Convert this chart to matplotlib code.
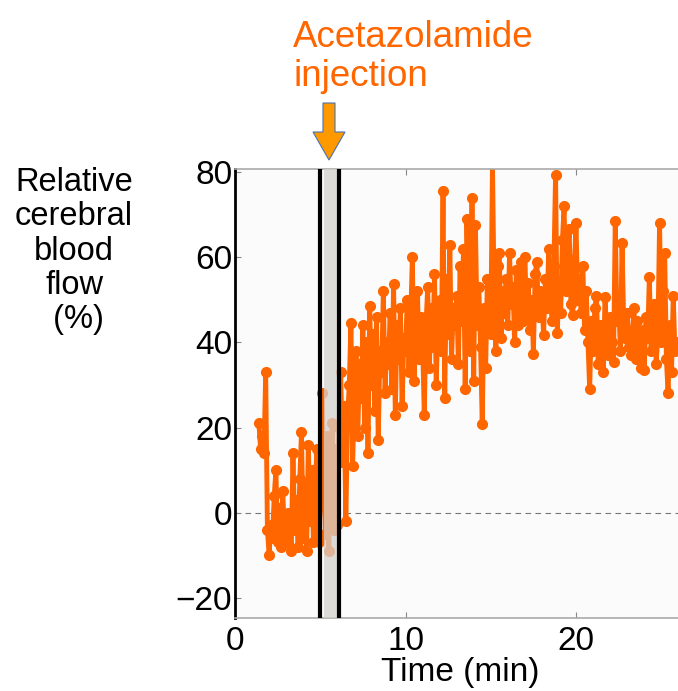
import matplotlib
matplotlib.use("Agg")
import matplotlib.pyplot as plt
from matplotlib.patches import FancyArrow
from matplotlib.transforms import IdentityTransform

# relative CBF (%) sampled every 0.1 min, starting at 1.4 min
t_start = 1.4
dt = 0.1
cbf = [
    21, 15, 18, 14, 33, -4,
    -10, -3, -6, 4, 10, -7, 1, -8, 5, -5,
    -7, 0, -3, -9, 14, -4, 3, -8, 8, 19,
    -6, 6, -9, 16, -2, 10, -7, 5, 15, -7,
    2, 28, 12, -5, 18, -9, 8, 21, -4, 15,
    -3, 20, 33, 12, 25, -2, 22, 30, 44.6, 11,
    28, 38, 18, 35, 27, 44, 20, 40, 14, 48.6,
    30, 42, 24, 46, 17, 38, 33, 52, 28, 40,
    35, 47, 29, 53.7, 23, 44, 36, 48, 25, 41,
    38, 50, 33, 45, 60, 31, 42, 52, 36, 46,
    40, 23, 44, 53, 34, 48, 39, 56, 30, 45,
    50, 38, 75.7, 27, 55, 42, 63, 36, 48, 44,
    51, 35, 58, 45, 62, 29, 69, 50, 38, 74,
    31, 67.6, 44, 53, 39, 20.8, 48, 34, 55, 46,
    42, 82, 50, 38, 58, 61, 41, 52, 47, 55,
    44, 61, 49, 53, 40, 57, 44, 51, 59, 45,
    60, 47, 54, 43, 50, 37.4, 56, 59, 46, 52,
    49, 41.8, 55, 48, 62, 51, 45, 58, 79.5, 42.3,
    53, 47, 64, 72, 52, 60, 66.6, 49, 46.5, 57,
    68, 50, 55, 47, 58, 43, 52, 40, 29, 45,
    38, 48, 51, 35, 44, 39, 33, 50.7, 42, 37,
    46, 40, 35.5, 68.6, 45, 50, 38, 63.3, 44, 41,
    47, 39, 37, 42, 48, 36, 45, 40, 34, 43,
    33.6, 46, 41, 55.4, 38, 44, 49, 35, 42, 68.2,
    40, 52, 61, 36, 28, 44, 33, 51, 38, 40,
]
times = [t_start + i * dt for i in range(len(cbf))]

inj_lines = [5.0, 6.1]
inj_band = [5.2, 6.0]
xticks = [0, 10, 20]
yticks = [-20, 0, 20, 40, 60, 80]
ytick_labels = ["\u221220", "0", "20", "40", "60", "80"]

orange = "#ff6600"
W, H = 678, 691

plt.rcParams['font.family'] = ['Liberation Sans', 'DejaVu Sans']
fig = plt.figure(figsize=(W / 100, H / 100), dpi=100)
ax = fig.add_axes([235 / W, 1 - 618 / H, 1 - 235 / W + 0.002, (618 - 169) / H])
ax.set_facecolor("#fbfbfb")

ax.plot(times, cbf, color=orange, lw=3.5, marker='o', ms=7, zorder=2)
ax.axhline(0, color="#777777", lw=0.8, ls=(0, (5, 4)), zorder=1)
ax.axvspan(inj_band[0], inj_band[1], color="#d4d1cc", alpha=0.75, lw=0, zorder=3)
for xv in inj_lines:
    ax.axvline(xv, color="black", lw=3, zorder=4)

ax.set_xlim(0, 26.06)
ax.set_ylim(-24.8, 80.8)
ax.set_xticks(xticks)
ax.set_yticks(yticks)
ax.set_yticklabels(ytick_labels)
ax.tick_params(axis='both', labelsize=24, direction='in', length=4, color="#888888")
ax.tick_params(axis='x', pad=6, top=True)
ax.tick_params(axis='y', pad=2)
for side in ['top', 'bottom', 'right']:
    ax.spines[side].set_color("#aaaaaa")
    ax.spines[side].set_linewidth(1.2)
ax.spines['left'].set_color("black")
ax.spines['left'].set_linewidth(2)

fig.text(460 / W, 1 - 673 / H, "Time (min)", fontsize=24, ha='center', va='center')
fig.text(74 / W, 1 - 251 / H, "Relative\ncerebral\nblood\nflow\n (%)", fontsize=23.5,
         ha='center', va='center', multialignment='center', linespacing=1.14)
fig.text(293 / W, 1 - 57 / H, "Acetazolamide\ninjection", fontsize=26.5, color=orange,
         ha='left', va='center', linespacing=1.13)

arrow = FancyArrow(329, H - 103, 0, -57, width=12, head_width=32, head_length=28,
                   length_includes_head=True, facecolor="#ff9900", edgecolor="#4a72b0",
                   lw=0.8, transform=IdentityTransform())
fig.add_artist(arrow)

fig.savefig("out.png", dpi=100)
